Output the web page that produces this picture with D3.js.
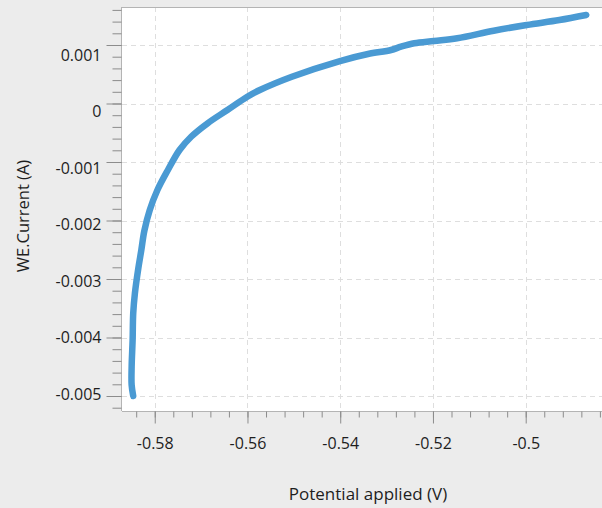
<!DOCTYPE html>
<html>
<head>
<meta charset="utf-8">
<script src="https://cdn.jsdelivr.net/npm/d3@7"></script>
<style>
  html, body { margin: 0; padding: 0; background: #ececec; }
  svg { display: block; }
  text { font-family: "Open Sans", "Noto Sans", sans-serif; fill: #1e1e1e; }
</style>
</head>
<body>
<svg id="chart" width="602" height="508"></svg>
<script>
// ---- data ----
const potential = [-0.58464, -0.58498, -0.58498, -0.58477, -0.58464, -0.58428, -0.58353, -0.58289,
  -0.58225, -0.58107, -0.57942, -0.57716, -0.57465, -0.57215, -0.56860, -0.56432, -0.56004,
  -0.55733, -0.55042, -0.54006, -0.53401, -0.52903, -0.52689, -0.52402, -0.51974, -0.51476,
  -0.50691, -0.49979, -0.49273, -0.48695];
const current = [-0.005000, -0.004812, -0.004499, -0.004043, -0.003586, -0.003244, -0.002812, -0.002504,
  -0.002179, -0.001821, -0.001479, -0.001137, -0.000795, -0.000568, -0.000338, -0.000111, 0.000116,
  0.000231, 0.000458, 0.000726, 0.000846, 0.000915, 0.000971, 0.001029, 0.001068, 0.001115,
  0.001244, 0.001342, 0.001427, 0.001513];
const xTickValues = [-0.58, -0.56, -0.54, -0.52, -0.5];
const xTickLabels = ["-0.58", "-0.56", "-0.54", "-0.52", "-0.5"];
const yTickValues = [0.001, 0, -0.001, -0.002, -0.003, -0.004, -0.005];
const yTickLabels = ["0.001", "0", "-0.001", "-0.002", "-0.003", "-0.004", "-0.005"];
const xTitle = "Potential applied (V)";
const yTitle = "WE.Current (A)";

// ---- layout ----
const svg = d3.select("#chart");
const pLeft = 122, pTop = 7, pRight = 614, pBottom = 411;

const x = d3.scaleLinear().domain([-0.58706, -0.48096]).range([pLeft, pRight]);
const y = d3.scaleLinear().domain([0.0016496, -0.0052564]).range([pTop, pBottom]);
// tick labels in the original drift slightly from their ticks
const yLabel = d3.scaleLinear().domain([0.001, -0.005]).range([60, 399.3]);

const xMinor = d3.range(-0.584, -0.4835, 0.004).map(v => +v.toFixed(3));
const yMinor = d3.range(0.0016, -0.00521, -0.0002).map(v => +v.toFixed(4));

// plot background
svg.append("rect").attr("x", pLeft).attr("y", pTop)
  .attr("width", pRight - pLeft).attr("height", pBottom - pTop).attr("fill", "#ffffff");

// grid
const grid = svg.append("g").attr("stroke", "#dedede").attr("stroke-width", 1)
  .attr("stroke-dasharray", "5,4").attr("fill", "none");
grid.selectAll(".gx").data(xTickValues).join("line")
  .attr("x1", d => Math.round(x(d)) + 0.5).attr("x2", d => Math.round(x(d)) + 0.5)
  .attr("y1", pTop).attr("y2", pBottom);
grid.selectAll(".gy").data(yTickValues).join("line")
  .attr("y1", d => Math.round(y(d)) + 0.5).attr("y2", d => Math.round(y(d)) + 0.5)
  .attr("x1", pLeft).attr("x2", pRight);

// borders
svg.append("line").attr("x1", pLeft).attr("x2", pRight).attr("y1", pTop + 0.5).attr("y2", pTop + 0.5)
  .attr("stroke", "#b4b4b4");
svg.append("line").attr("x1", pLeft - 0.5).attr("x2", pLeft - 0.5).attr("y1", pTop).attr("y2", pBottom)
  .attr("stroke", "#b4b4b4");
svg.append("line").attr("x1", pLeft).attr("x2", pRight).attr("y1", pBottom + 0.5).attr("y2", pBottom + 0.5)
  .attr("stroke", "#b4b4b4");

// axes
function styleAxis(g) {
  g.select(".domain").remove();
  g.selectAll(".tick line").attr("stroke", "#8c8c8c");
}
const yMinorAxis = svg.append("g").attr("transform", `translate(${pLeft - 0.5},0)`)
  .call(d3.axisLeft(y).tickValues(yMinor).tickSize(9).tickFormat(""));
styleAxis(yMinorAxis);
const yAxis = svg.append("g").attr("transform", `translate(${pLeft - 0.5},0)`)
  .call(d3.axisLeft(y).tickValues(yTickValues).tickSize(15).tickPadding(5)
    .tickFormat((d, i) => yTickLabels[i]));
styleAxis(yAxis);
yAxis.selectAll(".tick text")
  .attr("font-size", 16).attr("fill", "#1e1e1e")
  .attr("font-family", '"Open Sans", "Noto Sans", sans-serif')
  .attr("dy", 0).attr("y", d => yLabel(d) - y(d));

const xMinorAxis = svg.append("g").attr("transform", `translate(0,${pBottom + 0.5})`)
  .call(d3.axisBottom(x).tickValues(xMinor).tickSize(6).tickFormat(""));
styleAxis(xMinorAxis);
const xAxis = svg.append("g").attr("transform", `translate(0,${pBottom + 0.5})`)
  .call(d3.axisBottom(x).tickValues(xTickValues).tickSize(12)
    .tickFormat((d, i) => xTickLabels[i]));
styleAxis(xAxis);
xAxis.selectAll(".tick text")
  .attr("font-size", 16).attr("fill", "#1e1e1e")
  .attr("font-family", '"Open Sans", "Noto Sans", sans-serif')
  .attr("dy", 0).attr("y", 37);

// line
const pts = potential.map((p, i) => [p, current[i]]);
const line = d3.line().x(d => x(d[0])).y(d => y(d[1])).curve(d3.curveCatmullRom.alpha(0.5));
svg.append("path").datum(pts).attr("d", line)
  .attr("fill", "none").attr("stroke", "#4a9ad3").attr("stroke-width", 6.5)
  .attr("stroke-linecap", "round").attr("stroke-linejoin", "round");

// titles
svg.append("text").attr("x", 368).attr("y", 500).attr("text-anchor", "middle")
  .attr("font-size", 17).text(xTitle);
svg.append("text").attr("transform", "translate(28.5,216) rotate(-90)")
  .attr("text-anchor", "middle").attr("font-size", 16.5).text(yTitle);
</script>
</body>
</html>
